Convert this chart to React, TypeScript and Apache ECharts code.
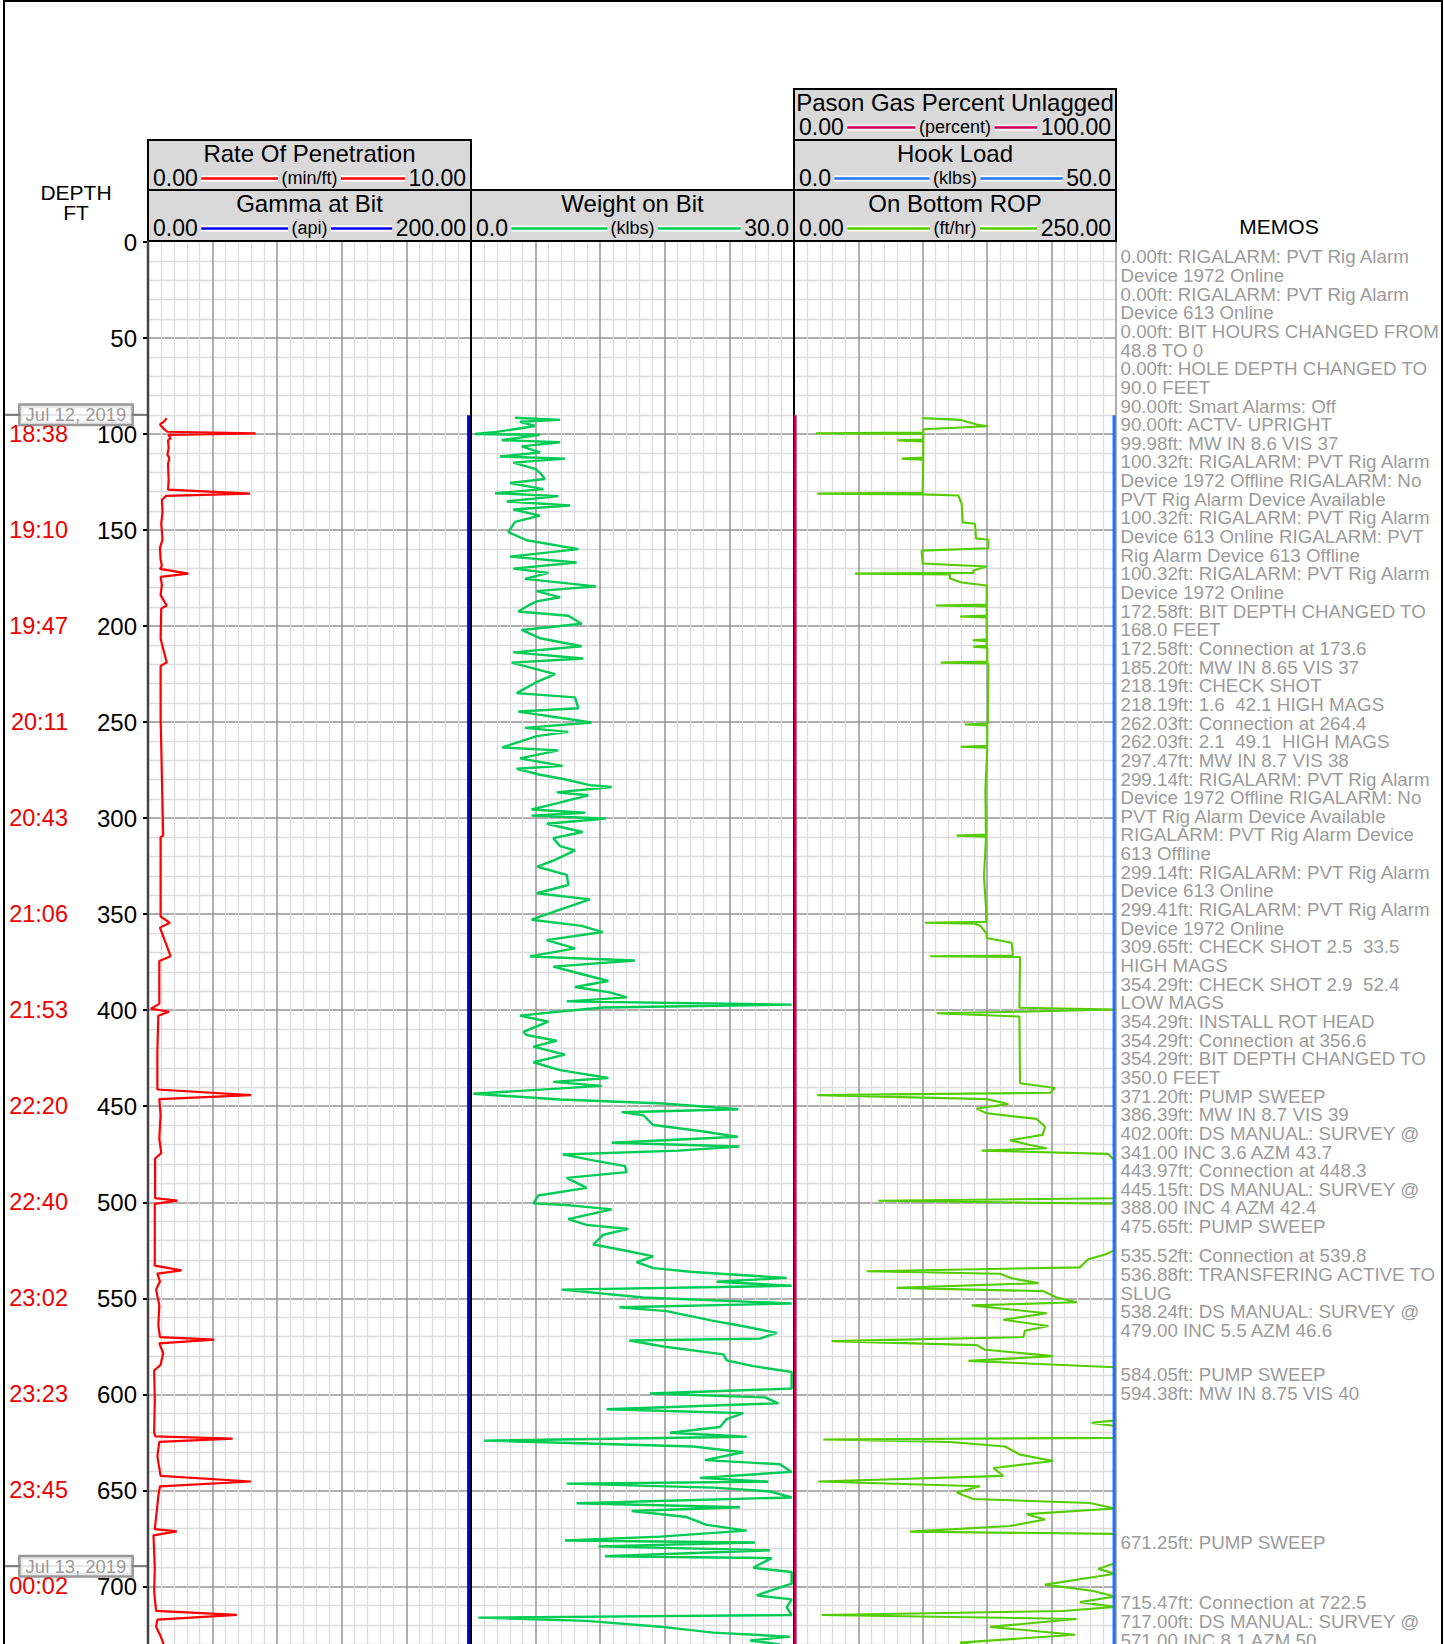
import React, { useEffect, useRef } from "react";
import * as echarts from "echarts";

const FONT = '"Liberation Sans", Arial, Helvetica, sans-serif';

// ---------- depth / time axis ----------
const depthRange = [0, 750];
const depthMajorStep = 50;
const timeTickDepths = [100, 150, 200, 250, 300, 350, 400, 450, 500, 550, 600, 650, 700];
const timeTickLabels = ["18:38", "19:10", "19:47", "20:11", "20:43", "21:06", "21:53", "22:20", "22:40", "23:02", "23:23", "23:45", "00:02"];
const dateMarkerDepths = [90, 689.5];
const dateMarkerLabels = ["Jul 12, 2019", "Jul 13, 2019"];

// ---------- track scales ----------
const ropRange = [0, 10];
const gammaRange = [0, 200];
const wobRange = [0, 30];
const obRopRange = [0, 250];
const hookRange = [0, 50];
const gasRange = [0, 100];

// ---------- curves: [depth ft, value] ----------
const ropMinFt = [
  [91.7, 0.58], [93.4, 0.5], [95.0, 0.37], [97.5, 0.5], [98.8, 0.6], [99.6, 3.33], [100.4, 0.63], [102.1, 0.7],
  [103.3, 0.62], [107.4, 0.64], [110.7, 0.6], [112.4, 0.66], [115.7, 0.62], [124.0, 0.64], [128.9, 0.62], [131.0, 3.16],
  [132.2, 0.56], [134.3, 0.43], [140.5, 0.45], [146.7, 0.41], [155.0, 0.45], [159.1, 0.37], [165.3, 0.39], [168.6, 0.43],
  [170.2, 0.37], [172.7, 1.25], [174.4, 0.39], [178.5, 0.43], [183.9, 0.39], [189.3, 0.58], [190.9, 0.41], [206.6, 0.39],
  [219.0, 0.58], [220.7, 0.39], [247.9, 0.39], [262.4, 0.41], [309.1, 0.47], [309.9, 0.39], [351.2, 0.39], [354.5, 0.68],
  [357.0, 0.37], [371.9, 0.7], [374.4, 0.35], [396.7, 0.35], [399.2, 0.09], [400.8, 0.65], [402.9, 0.32], [421.5, 0.29],
  [441.3, 0.29], [444.2, 3.19], [446.3, 0.35], [454.5, 0.39], [466.9, 0.35], [474.4, 0.41], [477.2, 0.22], [497.9, 0.22],
  [499.2, 0.91], [500.8, 0.21], [533.0, 0.21], [535.5, 1.04], [537.2, 0.29], [541.3, 0.37], [545.4, 0.25], [553.7, 0.35],
  [564.0, 0.32], [570.2, 0.37], [571.5, 2.05], [573.5, 0.35], [578.5, 0.47], [584.7, 0.39], [587.6, 0.19], [603.3, 0.21],
  [619.8, 0.19], [621.9, 0.23], [623.1, 2.62], [624.8, 0.35], [632.2, 0.29], [642.5, 0.39], [645.4, 3.19], [647.9, 0.37],
  [652.9, 0.32], [661.1, 0.27], [670.2, 0.21], [671.4, 0.89], [673.5, 0.17], [690.1, 0.21], [702.5, 0.19], [712.8, 0.25],
  [714.9, 2.75], [717.3, 0.29], [721.0, 0.25], [725.2, 0.37], [729.3, 0.47], [735.0, 0.5],
];

const gammaApi = [[90.2, 198.5], [750, 198.5]];
const gasPercent = [[90.2, 0.35], [750, 0.35]];
const hookLoadKlbs = [[90.2, 49.7], [750, 49.7]];

const wobKlbs = [
  [91.5, 4.09], [92.6, 8.27], [93.6, 4.55], [95.8, 5.94], [98.9, 2.38], [100.0, 0.37], [100.4, 6.41], [103.2, 2.85],
  [104.3, 8.27], [106.4, 4.71], [109.6, 6.41], [111.7, 2.69], [112.8, 8.73], [114.9, 3.93], [118.1, 5.94], [120.2, 6.41],
  [123.4, 6.87], [125.5, 3.62], [128.7, 6.72], [130.8, 2.23], [132.3, 8.11], [135.1, 3.31], [137.2, 9.2], [139.3, 3.93],
  [142.5, 6.41], [145.7, 4.09], [151.0, 3.47], [155.3, 5.17], [159.9, 9.97], [163.8, 3.62], [166.9, 9.81], [170.1, 3.93],
  [172.3, 7.18], [175.4, 5.02], [179.3, 11.61], [181.8, 6.1], [185.0, 8.27], [187.1, 6.1], [189.3, 5.33], [192.4, 4.4],
  [194.6, 9.04], [198.8, 10.28], [202.0, 4.71], [206.3, 6.41], [210.5, 10.28], [213.7, 3.93], [216.9, 10.43], [219.0, 3.78],
  [225.0, 7.8], [229.6, 5.94], [234.9, 4.24], [237.1, 9.66], [242.8, 9.97], [244.5, 4.4], [250.2, 11.21], [253.0, 5.02],
  [255.1, 9.04], [257.3, 6.1], [263.2, 2.91], [264.7, 8.11], [268.9, 4.55], [272.8, 8.51], [274.3, 4.24], [277.4, 6.41],
  [279.6, 8.58], [282.8, 11.05], [283.8, 13.07], [286.6, 7.96], [288.1, 10.9], [292.3, 7.96], [295.5, 5.63], [297.2, 10.59],
  [298.7, 5.63], [300.2, 12.51], [302.9, 7.03], [307.2, 10.37], [310.4, 7.65], [314.6, 8.27], [316.8, 9.66], [322.1, 7.65],
  [325.3, 6.16], [329.5, 8.89], [334.8, 9.04], [339.1, 6.1], [342.3, 11.05], [347.6, 8.27], [352.9, 5.63], [356.1, 10.28],
  [359.3, 12.23], [363.5, 7.03], [367.8, 9.66], [372.0, 5.48], [374.1, 15.23], [377.3, 7.65], [380.5, 9.81], [384.8, 12.76],
  [387.9, 9.66], [390.7, 12.91], [393.3, 14.46], [395.4, 8.89], [397.1, 29.78], [398.6, 12.29], [400.7, 8.27], [402.8, 4.55],
  [406.0, 7.18], [411.3, 4.86], [412.9, 5.17], [415.9, 7.96], [419.0, 5.79], [423.1, 8.73], [427.1, 5.79], [431.2, 8.27],
  [435.3, 12.76], [437.3, 7.65], [439.4, 12.14], [443.5, 0.22], [446.5, 8.27], [448.6, 17.86], [451.6, 24.83], [453.1, 13.99],
  [454.7, 16.01], [459.8, 16.93], [462.9, 21.27], [465.9, 24.77], [469.0, 13.07], [471.0, 24.92], [473.1, 19.26], [475.1, 8.51],
  [478.2, 11.36], [481.2, 14.3], [484.3, 14.46], [487.3, 8.89], [492.5, 10.74], [496.5, 6.25], [500.6, 5.79], [501.6, 9.2],
  [503.7, 13.07], [508.8, 9.04], [511.8, 10.74], [513.9, 14.61], [516.9, 12.29], [522.0, 11.36], [525.1, 14.3], [528.2, 16.93],
  [531.2, 15.39], [534.3, 16.93], [536.3, 20.65], [539.4, 29.32], [541.4, 22.82], [543.5, 29.78], [545.5, 8.42], [549.6, 16.01],
  [552.7, 29.78], [554.7, 13.78], [556.7, 18.17], [561.8, 22.51], [563.9, 24.68], [568.0, 28.39], [571.0, 26.84], [572.0, 14.71],
  [575.1, 17.86], [579.2, 23.44], [582.3, 23.75], [585.3, 26.22], [588.4, 29.78], [597.0, 29.78], [599.6, 16.63], [601.6, 27.31],
  [604.7, 28.55], [607.8, 12.6], [609.8, 25.29], [612.9, 23.75], [617.0, 23.13], [620.0, 18.48], [622.1, 25.6], [624.1, 1.21],
  [627.2, 20.65], [630.2, 25.29], [634.3, 21.73], [636.4, 28.7], [640.4, 29.78], [643.5, 21.27], [645.5, 27.62], [646.5, 8.89],
  [648.6, 22.51], [650.6, 27.77], [653.7, 29.78], [656.7, 9.81], [658.8, 24.98], [660.8, 14.92], [663.9, 20.03], [668.0, 21.89],
  [671.0, 25.6], [674.1, 17.55], [676.1, 8.73], [677.2, 26.38], [679.2, 11.83], [681.2, 27.77], [684.3, 12.45], [685.3, 27.93],
  [688.4, 26.84], [690.4, 26.22], [692.5, 29.78], [698.6, 29.78], [704.7, 26.53], [706.8, 29.78], [710.9, 29.32], [714.9, 29.78],
  [716.3, 0.68], [718.0, 10.74], [721.0, 17.55], [724.1, 22.51], [726.2, 29.63], [728.2, 25.91], [730.2, 28.7], [735.0, 27.5],
];

const onBottomRopFtHr = [
  [91.7, 99.6], [92.6, 128.9], [95.0, 141.8], [95.9, 150.1], [97.5, 100.4], [99.2, 100.4], [99.6, 17.1], [100.0, 100.4],
  [102.8, 100.4], [103.3, 80.2], [103.8, 100.4], [112.3, 100.4], [112.8, 83.6], [113.3, 100.4], [128.9, 99.9], [130.6, 99.9],
  [131.0, 18.1], [131.4, 99.9], [132.0, 127.6], [136.4, 130.2], [146.0, 131.0], [146.7, 140.5], [154.3, 141.3], [155.0, 150.9],
  [159.5, 150.9], [160.7, 99.1], [167.4, 99.9], [169.0, 149.6], [171.1, 139.2], [172.3, 139.2], [172.7, 47.4], [173.1, 121.1],
  [175.2, 121.1], [177.3, 130.2], [178.9, 149.6], [188.8, 149.6], [189.3, 110.2], [189.8, 149.6], [194.5, 149.6], [195.0, 128.9],
  [195.5, 149.6], [206.9, 149.6], [207.4, 138.7], [207.9, 149.6], [210.2, 149.6], [210.7, 139.2], [211.2, 150.1], [218.5, 150.1],
  [219.0, 113.9], [219.5, 150.9], [250.7, 150.5], [251.2, 132.8], [251.7, 150.1], [262.3, 150.1], [262.8, 129.4], [263.3, 150.1],
  [285.1, 148.6], [308.6, 149.0], [309.1, 126.3], [309.6, 149.1], [330.6, 147.5], [347.1, 149.1], [354.0, 149.2], [354.5, 101.7],
  [355.0, 140.5], [356.2, 145.0], [360.3, 149.6], [362.4, 149.6], [364.9, 169.0], [370.2, 169.8], [371.5, 169.8], [371.9, 105.6],
  [372.3, 175.5], [373.5, 175.5], [398.7, 175.0], [399.6, 249.2], [400.8, 175.5], [401.6, 110.8], [403.3, 175.0], [438.0, 175.5],
  [440.5, 202.6], [443.0, 198.8], [444.2, 18.1], [446.3, 149.6], [448.8, 166.4], [451.2, 141.8], [453.7, 149.6], [456.6, 188.4],
  [460.7, 194.9], [464.9, 193.1], [467.7, 167.7], [470.2, 183.2], [471.9, 196.2], [473.1, 145.7], [474.8, 244.0], [478.5, 249.2],
  [497.9, 249.2], [499.2, 65.5], [500.8, 249.2], [524.8, 249.2], [527.2, 241.5], [529.7, 228.5], [533.9, 222.0], [535.9, 56.4],
  [537.2, 159.9], [539.6, 169.0], [542.1, 189.7], [544.6, 79.7], [546.3, 193.6], [549.6, 203.9], [552.1, 219.5], [553.7, 137.9],
  [557.8, 196.2], [561.2, 162.5], [564.4, 197.5], [566.9, 179.3], [570.2, 178.1], [572.3, 29.2], [574.4, 141.8], [576.8, 148.3],
  [580.1, 201.3], [582.6, 135.4], [585.9, 249.2], [613.6, 249.2], [614.9, 231.1], [616.5, 249.2], [622.7, 249.2], [623.5, 22.8],
  [624.8, 121.1], [627.2, 163.8], [631.4, 175.5], [634.7, 201.3], [638.4, 154.8], [642.5, 162.5], [645.4, 18.9], [647.9, 144.4],
  [651.2, 126.3], [654.5, 139.2], [656.6, 229.8], [659.5, 249.2], [662.4, 180.6], [665.2, 194.9], [668.6, 167.7], [671.5, 90.1],
  [672.7, 249.2], [688.0, 249.2], [690.9, 236.3], [693.4, 249.2], [699.1, 194.9], [702.4, 232.4], [705.3, 249.2], [708.2, 222.0],
  [710.7, 249.2], [712.8, 209.1], [714.9, 21.5], [717.0, 219.5], [721.1, 152.2], [725.2, 218.2], [729.3, 128.9], [735.0, 170.0],
];

// ---------- memos ----------
const memoAnchorDepths = [7.97, 528.1, 589.9, 677.2, 708.9];
const memoBlocks = [
  [
    "0.00ft: RIGALARM: PVT Rig Alarm\nDevice 1972 Online",
    "0.00ft: RIGALARM: PVT Rig Alarm\nDevice 613 Online",
    "0.00ft: BIT HOURS CHANGED FROM\n48.8 TO 0",
    "0.00ft: HOLE DEPTH CHANGED TO\n90.0 FEET",
    "90.00ft: Smart Alarms: Off",
    "90.00ft: ACTV- UPRIGHT",
    "99.98ft: MW IN 8.6 VIS 37",
    "100.32ft: RIGALARM: PVT Rig Alarm\nDevice 1972 Offline RIGALARM: No\nPVT Rig Alarm Device Available",
    "100.32ft: RIGALARM: PVT Rig Alarm\nDevice 613 Online RIGALARM: PVT\nRig Alarm Device 613 Offline",
    "100.32ft: RIGALARM: PVT Rig Alarm\nDevice 1972 Online",
    "172.58ft: BIT DEPTH CHANGED TO\n168.0 FEET",
    "172.58ft: Connection at 173.6",
    "185.20ft: MW IN 8.65 VIS 37",
    "218.19ft: CHECK SHOT",
    "218.19ft: 1.6  42.1 HIGH MAGS",
    "262.03ft: Connection at 264.4",
    "262.03ft: 2.1  49.1  HIGH MAGS",
    "297.47ft: MW IN 8.7 VIS 38",
    "299.14ft: RIGALARM: PVT Rig Alarm\nDevice 1972 Offline RIGALARM: No\nPVT Rig Alarm Device Available\nRIGALARM: PVT Rig Alarm Device\n613 Offline",
    "299.14ft: RIGALARM: PVT Rig Alarm\nDevice 613 Online",
    "299.41ft: RIGALARM: PVT Rig Alarm\nDevice 1972 Online",
    "309.65ft: CHECK SHOT 2.5  33.5\nHIGH MAGS",
    "354.29ft: CHECK SHOT 2.9  52.4\nLOW MAGS",
    "354.29ft: INSTALL ROT HEAD",
    "354.29ft: Connection at 356.6",
    "354.29ft: BIT DEPTH CHANGED TO\n350.0 FEET",
    "371.20ft: PUMP SWEEP",
    "386.39ft: MW IN 8.7 VIS 39",
    "402.00ft: DS MANUAL: SURVEY @\n341.00 INC 3.6 AZM 43.7",
    "443.97ft: Connection at 448.3",
    "445.15ft: DS MANUAL: SURVEY @\n388.00 INC 4 AZM 42.4",
    "475.65ft: PUMP SWEEP",
  ],
  [
    "535.52ft: Connection at 539.8",
    "536.88ft: TRANSFERING ACTIVE TO\nSLUG",
    "538.24ft: DS MANUAL: SURVEY @\n479.00 INC 5.5 AZM 46.6",
  ],
  ["584.05ft: PUMP SWEEP", "594.38ft: MW IN 8.75 VIS 40"],
  ["671.25ft: PUMP SWEEP"],
  ["715.47ft: Connection at 722.5", "717.00ft: DS MANUAL: SURVEY @\n571.00 INC 8.1 AZM 50"],
];

// ---------- headers ----------
const headerTitles = ["Rate Of Penetration", "Gamma at Bit", "Weight on Bit", "Pason Gas Percent Unlagged", "Hook Load", "On Bottom ROP"];
const headerUnits = ["(min/ft)", "(api)", "(klbs)", "(percent)", "(klbs)", "(ft/hr)"];
const headerMinLabels = ["0.00", "0.00", "0.0", "0.00", "0.0", "0.00"];
const headerMaxLabels = ["10.00", "200.00", "30.0", "100.00", "50.0", "250.00"];

const C_ROP = "#ff0000";
const C_GAMMA = "#0000f0";
const C_WOB = "#00cc55";
const C_GAS = "#cc0050";
const C_HOOK = "#1f72f0";
const C_OBROP = "#55cc00";
const MAJOR = "#959595";
const MINOR = "#dcdcdc";

export default function App() {
  const ref = useRef<HTMLDivElement>(null);

  useEffect(() => {
    document.body.style.margin = "0";
    if (!ref.current) return;
    const chart = echarts.init(ref.current, null, { renderer: "svg" });

    const canvas = document.createElement("canvas");
    const ctx = canvas.getContext("2d")!;
    const measure = (t: string, size: number) => {
      ctx.font = `${size}px "Liberation Sans"`;
      return ctx.measureText(t).width;
    };

    const PX_PER_FT = 1.9205;
    const TOP = 242;
    const gridH = (depthRange[1] - depthRange[0]) * PX_PER_FT;
    const T = [
      { left: 148, width: 323 },
      { left: 471, width: 323 },
      { left: 794, width: 322 },
    ];

    const gridBase = { top: TOP, height: gridH, show: false, outerBoundsMode: "none", containLabel: false };
    const grids = [
      { ...gridBase, left: T[0].left, width: T[0].width },
      { ...gridBase, left: T[1].left, width: T[1].width },
      { ...gridBase, left: T[2].left, width: T[2].width },
      { ...gridBase, left: 4, width: 144 },
      { ...gridBase, left: 1121, width: 300 },
    ];

    const xAx = (gridIndex: number, range: number[], show: boolean) => ({
      type: "value", gridIndex, min: range[0], max: range[1], interval: (range[1] - range[0]) / 5,
      position: "top", show,
      axisLine: { show: false }, axisTick: { show: false }, axisLabel: { show: false },
      splitLine: { show: true, showMinLine: false, lineStyle: { color: MAJOR, width: 1.5 } },
      minorTick: { show: false, splitNumber: 5 },
      minorSplitLine: { show: true, lineStyle: { color: MINOR, width: 1.3 } },
    });
    const yAx = (gridIndex: number, show: boolean, extra: any = {}) => ({
      type: "value", gridIndex, inverse: true, min: depthRange[0], max: depthRange[1], interval: depthMajorStep,
      show,
      axisLine: { show: false }, axisTick: { show: false }, axisLabel: { show: false },
      splitLine: { show: true, showMinLine: false, lineStyle: { color: MAJOR, width: 1.5 } },
      minorTick: { show: false, splitNumber: 5 },
      minorSplitLine: { show: true, lineStyle: { color: MINOR, width: 1.3 } },
      ...extra,
    });

    const timeByDepth = new Map(timeTickDepths.map((d, i) => [d, timeTickLabels[i]]));

    const xAxis = [
      xAx(0, ropRange, true), // 0
      xAx(0, gammaRange, false), // 1
      xAx(1, wobRange, true), // 2
      xAx(2, obRopRange, true), // 3
      xAx(2, hookRange, false), // 4
      xAx(2, gasRange, false), // 5
      { type: "value", gridIndex: 3, min: 0, max: 1, show: false }, // 6
      { type: "value", gridIndex: 4, min: 0, max: 1, show: false }, // 7
    ];
    const yAxis = [
      yAx(0, true, {
        position: "left",
        axisTick: { show: true, length: 5, lineStyle: { color: "#000", width: 2 } },
        axisLabel: { show: true, margin: 11, color: "#000", fontSize: 24, fontFamily: FONT },
      }),
      {
        type: "value", gridIndex: 0, inverse: true, min: depthRange[0], max: depthRange[1], interval: depthMajorStep,
        position: "left", offset: 72,
        axisLine: { show: false }, axisTick: { show: false }, splitLine: { show: false },
        axisLabel: {
          show: true, margin: 8, color: "#ee0000", fontSize: 23.5, fontFamily: FONT,
          formatter: (v: number) => timeByDepth.get(Math.round(v)) ?? "",
        },
      },
      yAx(1, true),
      yAx(2, true),
      { type: "value", gridIndex: 3, inverse: true, min: depthRange[0], max: depthRange[1], show: false },
      { type: "value", gridIndex: 4, inverse: true, min: depthRange[0], max: depthRange[1], show: false },
    ];

    const curve = (data: number[][], xi: number, yi: number, color: string, width: number, z = 3) => ({
      type: "line", xAxisIndex: xi, yAxisIndex: yi, data: data.map(([d, v]) => [v, d]),
      symbol: "none", showSymbol: false, silent: true, z,
      lineStyle: { color, width }, itemStyle: { color },
    });

    const series: any[] = [
      curve(ropMinFt, 0, 0, C_ROP, 2.2),
      curve(gammaApi, 1, 0, C_GAMMA, 3, 12),
      curve(wobKlbs, 2, 2, C_WOB, 2.4),
      curve(onBottomRopFtHr, 3, 3, C_OBROP, 2.1),
      curve(hookLoadKlbs, 4, 3, C_HOOK, 3, 12),
      curve(gasPercent, 5, 3, C_GAS, 3, 12),
    ];
    dateMarkerDepths.forEach((d) => {
      series.push({
        type: "line", xAxisIndex: 6, yAxisIndex: 4, data: [[0, d], [1, d]], symbol: "none", silent: true, z: 3,
        lineStyle: { color: "#808080", width: 2.2 },
      });
    });
    series.push({
      type: "scatter", xAxisIndex: 6, yAxisIndex: 4, symbolSize: 1, silent: true, z: 6,
      itemStyle: { color: "rgba(0,0,0,0)" },
      data: dateMarkerDepths.map((d, i) => ({ value: [0.5, d], label: { formatter: dateMarkerLabels[i] } })),
      label: {
        show: true, position: "inside", fontSize: 18.5, fontFamily: FONT, color: "#808080",
        backgroundColor: "#ffffff", borderColor: "#808080", borderWidth: 2.5, padding: [1, 5, 0, 5], lineHeight: 17,
      },
    });
    series.push({
      type: "scatter", xAxisIndex: 7, yAxisIndex: 5, symbolSize: 1, silent: true, z: 6,
      itemStyle: { color: "rgba(0,0,0,0)" },
      data: memoBlocks.map((b, i) => ({ value: [0, memoAnchorDepths[i]], label: { formatter: b.join("\n") } })),
      label: {
        show: true, position: [0, 0], align: "left", verticalAlign: "top", offset: [0, -9.3],
        fontSize: 18.75, lineHeight: 18.65, fontFamily: FONT, color: "#808080",
      },
    });

    // ---------- graphic: headers, borders, titles ----------
    const g: any[] = [];
    const txt = (text: string, x: number, y: number, size: number, align: string, fill = "#000", z = 6) => ({
      type: "text", x, y, z, silent: true,
      style: { text, font: `${size}px ${FONT}`, fill, align, verticalAlign: "middle", textAlign: align, textVerticalAlign: "middle" },
    });
    const rows = [89, 140, 190, 241];
    const headerBoxes = [
      { track: 0, row: 1 },
      { track: 0, row: 2 },
      { track: 1, row: 2 },
      { track: 2, row: 0 },
      { track: 2, row: 1 },
      { track: 2, row: 2 },
    ];
    const headerColors = [C_ROP, C_GAMMA, C_WOB, C_GAS, C_HOOK, C_OBROP];
    headerBoxes.forEach((hb, i) => {
      const left = T[hb.track].left;
      const right = left + T[hb.track].width;
      const top = rows[hb.row];
      const bottom = rows[hb.row + 1];
      const cx = (left + right) / 2;
      g.push({
        type: "rect", z: 5, silent: true,
        shape: { x: left, y: top, width: right - left, height: bottom - top },
        style: { fill: "#d9d9d9", stroke: "#000", lineWidth: 2 },
      });
      g.push(txt(headerTitles[i], cx, top + 13.5, 24, "center"));
      const vy = top + 37.5;
      g.push(txt(headerMinLabels[i], left + 5, vy, 23, "left"));
      g.push(txt(headerMaxLabels[i], right - 5, vy, 23, "right"));
      g.push(txt(headerUnits[i], cx, vy, 18, "center"));
      const wMin = measure(headerMinLabels[i], 23);
      const wMax = measure(headerMaxLabels[i], 23);
      const wUnit = measure(headerUnits[i], 18);
      const segs = [
        [left + 5 + wMin + 3.5, cx - wUnit / 2 - 3.5],
        [cx + wUnit / 2 + 3.5, right - 5 - wMax - 3.5],
      ];
      segs.forEach(([a, b]) => {
        g.push({ type: "line", z: 6, silent: true, shape: { x1: a, y1: vy + 1, x2: b, y2: vy + 1 }, style: { stroke: "#ffffff", lineWidth: 6 } });
        g.push({ type: "line", z: 7, silent: true, shape: { x1: a, y1: vy + 1, x2: b, y2: vy + 1 }, style: { stroke: headerColors[i], lineWidth: 2.6 } });
      });
    });
    // track borders
    g.push({ type: "line", z: 8, silent: true, shape: { x1: 148, y1: 241, x2: 148, y2: 1700 }, style: { stroke: "#444", lineWidth: 2.5 } });
    g.push({ type: "line", z: 8, silent: true, shape: { x1: 471, y1: 241, x2: 471, y2: 1700 }, style: { stroke: "#000", lineWidth: 2 } });
    g.push({ type: "line", z: 8, silent: true, shape: { x1: 794, y1: 241, x2: 794, y2: 1700 }, style: { stroke: "#000", lineWidth: 2 } });
    // outer frame
    g.push({ type: "rect", z: 9, silent: true, shape: { x: 4, y: 1, width: 1438, height: 1700 }, style: { fill: "none", stroke: "#000", lineWidth: 2 } });
    // labels
    g.push(txt("DEPTH", 76, 192, 21, "center"));
    g.push(txt("FT", 76, 212.5, 21, "center"));
    g.push(txt("MEMOS", 1279, 226, 21, "center"));

    chart.setOption({
      animation: false,
      textStyle: { fontFamily: FONT },
      grid: grids,
      xAxis,
      yAxis,
      series,
      graphic: { elements: g },
    });

    return () => chart.dispose();
  }, []);

  return <div ref={ref} style={{ width: 1444, height: 1644, background: "#fff" }} />;
}
